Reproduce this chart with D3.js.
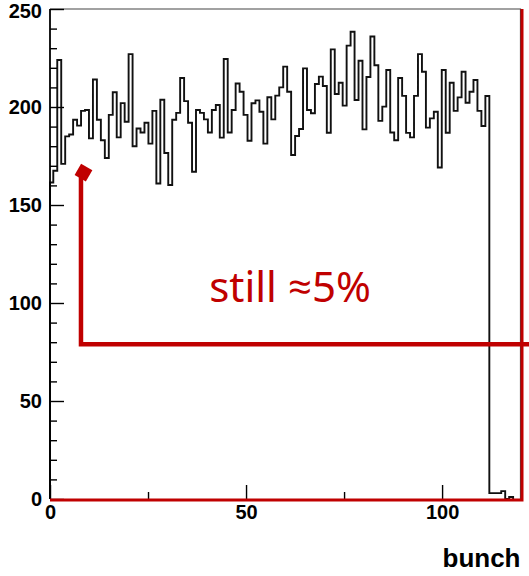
<!DOCTYPE html>
<html>
<head>
<meta charset="UTF-8">
<title>bunch</title>
<script src="https://d3js.org/d3.v7.min.js"></script>
<style>
  body { margin: 0; background: #fff; }
  svg { display: block; }
  .axis text { font-family: "Liberation Sans", Arial, sans-serif; font-weight: bold; font-size: 20px; fill: #000; }
  .axis path { display: none; }
  .axis line { stroke: #000; stroke-width: 1.4; }
</style>
</head>
<body>
<svg width="529" height="576"></svg>
<script>
    // entries per bunch (bins 0..110)
    const counts = [
        161.5, 167.5, 224, 171, 185, 186, 193.5, 190.5, 198, 198.5,
        184, 214, 193.5, 183, 174, 196, 207.5, 184.5, 202, 192.5,
        227, 180, 189, 187, 192, 181.3, 198, 161, 203.7, 176.5,
        160.2, 193.5, 197, 214.8, 203, 192, 167, 198.5, 197, 193.7,
        187, 198.5, 201, 184.4, 224.5, 187, 198.5, 212, 207.8, 196,
        182.8, 201.9, 203.4, 197.6, 181.3, 205, 193.7, 205.8, 210, 220.6,
        207.8, 175.5, 185.2, 188.8, 219.7, 198.5, 196.8, 211.7, 215.5, 210.7,
        186.9, 229.4, 206.6, 212.4, 200.7, 231.3, 238.4, 203.6, 223.6, 188.6,
        215.3, 236, 221.3, 192.9, 200.2, 218.9, 187, 183, 214.8, 205.7,
        186.8, 184.5, 205.7, 227, 218, 189.5, 194.2, 197.6, 169.1, 218.9,
        186.9, 212.4, 198, 204.9, 218, 202.2, 207.8, 213.8, 198, 190.3,
        205.6
    ];
    // the few entries after the train (bins 111..116)
    const tailCounts = [3, 3, 3, 4, 0, 1];

    const xMajor = [0, 50, 100];
    const xMinor = [25, 75];
    const yMajor = [0, 50, 100, 150, 200, 250];
    const yMinor = [10, 20, 30, 40, 60, 70, 80, 90, 110, 120, 130, 140,
                    160, 170, 180, 190, 210, 220, 230, 240];

    const binStart = -0.17, binWidth = 1.011;

    const svg = d3.select("svg");
    const red = "#c00000";

    const x = d3.scaleLinear().domain([0, 120]).range([50, 520.5]);
    const y = d3.scaleLinear().domain([0, 250]).range([499, 9]);

    // frame
    svg.append("path")
        .attr("d", `M${x(0)},${y(250)}H${x(120)}V${y(0)}`)
        .attr("fill", "none")
        .attr("stroke", "#444")
        .attr("stroke-width", 1.2);

    // histogram outline
    const all = counts.concat(tailCounts);
    const pts = [[0, 0]];
    all.forEach((v, k) => {
        const lo = Math.max(0, binStart + k * binWidth);
        const hi = binStart + (k + 1) * binWidth;
        pts.push([lo, v], [hi, v]);
    });
    pts.push([pts[pts.length - 1][0], 0]);

    svg.append("path")
        .attr("d", d3.line().x(d => x(d[0])).y(d => y(d[1]))(pts))
        .attr("fill", "none")
        .attr("stroke", "#111")
        .attr("stroke-width", 1.9);

    // axes, ticks pointing in
    svg.append("g").attr("class", "axis")
        .attr("transform", `translate(${x(0)},0)`)
        .call(d3.axisLeft(y).tickValues(yMinor).tickSize(-7).tickFormat(""));
    const yAx = svg.append("g").attr("class", "axis")
        .attr("transform", `translate(${x(0)},0)`)
        .call(d3.axisLeft(y).tickValues(yMajor).tickSize(-14).tickPadding(8));
    // keep the top label inside the picture
    yAx.selectAll(".tick text").filter(d => d === 250).attr("dy", "0.42em");

    svg.append("g").attr("class", "axis")
        .attr("transform", `translate(0,${y(0)})`)
        .call(d3.axisBottom(x).tickValues(xMinor).tickSize(-7).tickFormat(""));
    svg.append("g").attr("class", "axis")
        .attr("transform", `translate(0,${y(0)})`)
        .call(d3.axisBottom(x).tickValues(xMajor).tickSize(-14).tickPadding(6));

    svg.append("line")
        .attr("x1", x(0)).attr("x2", x(0))
        .attr("y1", y(250)).attr("y2", y(0))
        .attr("stroke", "#000").attr("stroke-width", 1.8);

    svg.append("text")
        .attr("x", x(120))
        .attr("y", 567)
        .attr("text-anchor", "end")
        .style("font-family", "'Liberation Sans', Arial, sans-serif")
        .style("font-weight", "bold")
        .style("font-size", "26px")
        .text("bunch");

    // red annotations
    svg.append("path")
        .attr("d", `M${x(0)},${y(0) + 1}H${x(120) + 1.5}V${y(250)}`)
        .attr("fill", "none")
        .attr("stroke", red)
        .attr("stroke-width", 3);

    const mark = { x: 7.9, top: 167, level: 79, end: 122.5 };
    svg.append("path")
        .attr("d", `M${x(mark.x)},${y(mark.top)}V${y(mark.level)}H${x(mark.end)}`)
        .attr("fill", "none")
        .attr("stroke", red)
        .attr("stroke-width", 4.5);

    svg.append("rect")
        .attr("x", -6.5).attr("y", -6.5).attr("width", 13).attr("height", 13)
        .attr("fill", red)
        .attr("transform", `translate(${x(mark.x) + 2.5},${y(mark.top) + 1}) rotate(30)`);

    svg.append("text")
        .attr("x", x(40.6))
        .attr("y", y(100.5))
        .attr("fill", red)
        .style("font-family", "'Noto Sans', 'Open Sans', sans-serif")
        .style("font-size", "42px")
        .text("still ≈5%");
</script>
</body>
</html>
